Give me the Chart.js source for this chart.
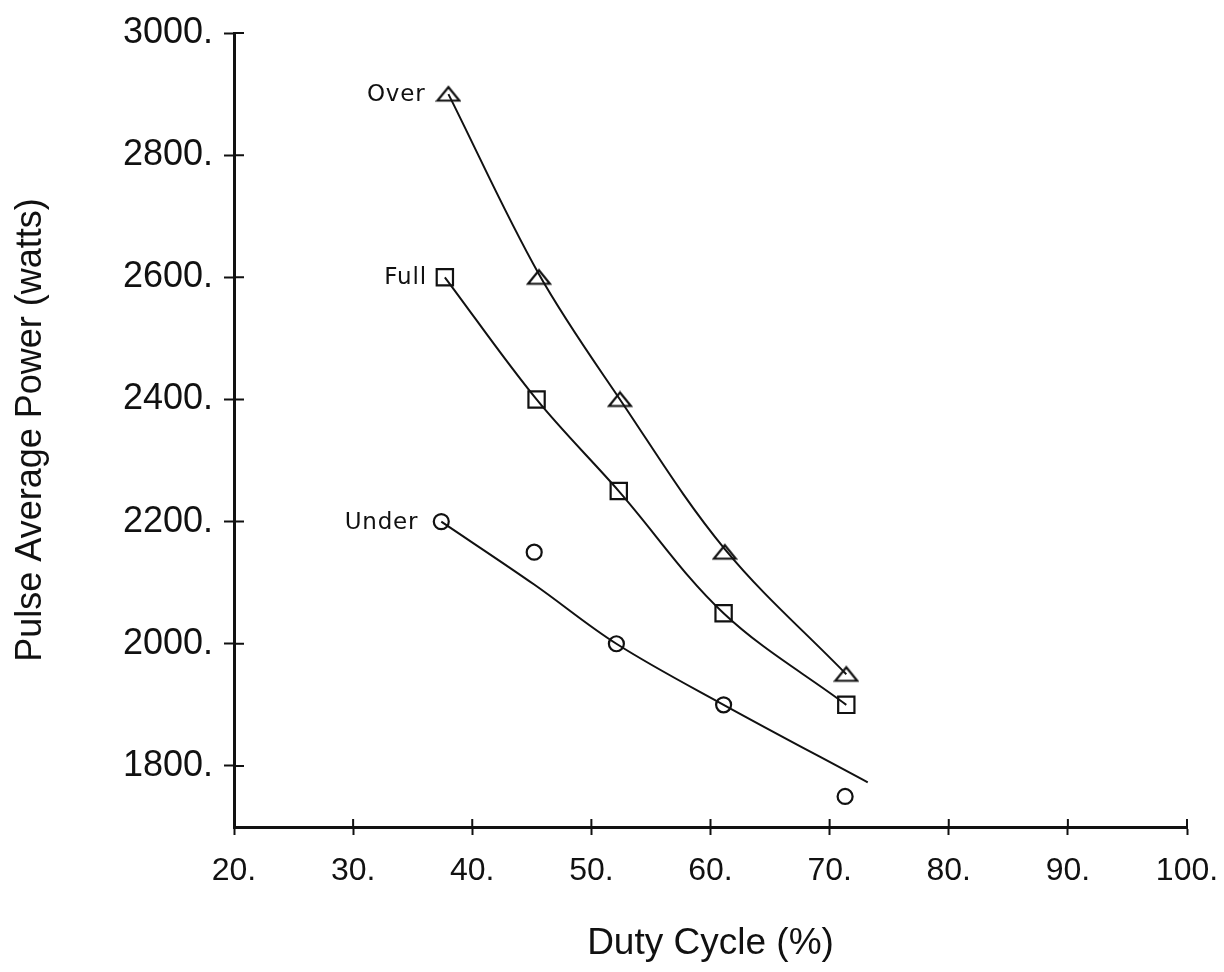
<!DOCTYPE html>
<html>
<head>
<meta charset="utf-8">
<script src="https://cdn.jsdelivr.net/npm/chart.js@4.4.1/dist/chart.umd.min.js"></script>
<style>
  html, body { margin: 0; padding: 0; background: #ffffff; }
  #wrap { width: 1224px; height: 972px; }
</style>
</head>
<body>
<div id="wrap"><canvas id="c" width="1224" height="972"></canvas></div>
<script>
// ---- Data ----
const seriesNames = ['Over', 'Full', 'Under'];

// measured points (Duty Cycle %, Pulse Average Power W)
const overX  = [38.0, 45.6, 52.4, 61.2, 71.4];
const overY  = [2900, 2600, 2400, 2150, 1950];
const fullX  = [37.7, 45.4, 52.3, 61.1, 71.4];
const fullY  = [2600, 2400, 2250, 2050, 1900];
const underX = [37.4, 45.2, 52.1, 61.1, 71.3];
const underY = [2200, 2150, 2000, 1900, 1750];

// fitted curves
const overFitX  = [38.0, 45.6, 52.4, 61.2, 71.4];
const overFitY  = [2900, 2605, 2400, 2155, 1950];
const fullFitX  = [37.7, 45.4, 52.3, 61.1, 71.4];
const fullFitY  = [2600, 2400, 2250, 2050, 1900];
const underFitX = [37.4, 45.2, 52.1, 61.1, 73.2];
const underFitY = [2200, 2097, 2000, 1900, 1773];

// axes
const xMin = 20, xMax = 100, xStep = 10;
const yMin = 1700, yMax = 3000;
const yTicks = [1800, 2000, 2200, 2400, 2600, 2800, 3000];

const xTitle = 'Duty Cycle (%)';
const yTitle = 'Pulse Average Power (watts)';

// ---- helpers ----
const pts = (xs, ys) => xs.map((x, i) => ({ x: x, y: ys[i] }));
const INK = '#111111';

function triangleMarker() {
  const c = document.createElement('canvas');
  c.width = 26; c.height = 18;
  const g = c.getContext('2d');
  g.strokeStyle = INK;
  g.lineWidth = 2.2;
  g.lineJoin = 'miter';
  g.beginPath();
  g.moveTo(13, 2);
  g.lineTo(24, 15.5);
  g.lineTo(2, 15.5);
  g.closePath();
  g.stroke();
  return c;
}
const triImg = triangleMarker();

const curveStyle = {
  showLine: true, pointRadius: 0, borderColor: INK, borderWidth: 2,
  cubicInterpolationMode: 'default', tension: 0.35, fill: false
};
const markerStyle = {
  showLine: false, borderColor: INK, backgroundColor: 'rgba(0,0,0,0)',
  pointBorderWidth: 2.2, pointBackgroundColor: 'rgba(0,0,0,0)', pointBorderColor: INK
};

const datasets = [
  Object.assign({ label: 'Over fit',  data: pts(overFitX, overFitY) }, curveStyle),
  Object.assign({ label: 'Full fit',  data: pts(fullFitX, fullFitY) }, curveStyle),
  Object.assign({ label: 'Under fit', data: pts(underFitX, underFitY) }, curveStyle),
  Object.assign({ label: seriesNames[0], data: pts(overX, overY), pointStyle: triImg, pointRadius: 11 }, markerStyle),
  Object.assign({ label: seriesNames[1], data: pts(fullX, fullY), pointStyle: 'rect', pointRadius: 11.5 }, markerStyle),
  Object.assign({ label: seriesNames[2], data: pts(underX, underY), pointStyle: 'circle', pointRadius: 7.5 }, markerStyle)
];

// inner half of the tick marks (ticks cross the axes)
const innerTicks = {
  id: 'innerTicks',
  afterDraw(chart) {
    const { ctx, chartArea, scales } = chart;
    ctx.save();
    ctx.strokeStyle = INK;
    ctx.lineWidth = 2;
    ctx.beginPath();
    scales.x.ticks.forEach(t => {
      const px = scales.x.getPixelForValue(t.value);
      ctx.moveTo(px, chartArea.bottom);
      ctx.lineTo(px, chartArea.bottom - 8);
    });
    scales.y.ticks.forEach(t => {
      const py = scales.y.getPixelForValue(t.value);
      ctx.moveTo(chartArea.left, py);
      ctx.lineTo(chartArea.left + 10, py);
    });
    ctx.stroke();
    ctx.restore();
  }
};

// series names written beside the first marker of each series
const seriesLabels = {
  id: 'seriesLabels',
  afterDatasetsDraw(chart) {
    const { ctx, scales } = chart;
    const firsts = [[overX[0], overY[0], 23], [fullX[0], fullY[0], 18], [underX[0], underY[0], 23]];
    ctx.save();
    ctx.fillStyle = INK;
    ctx.font = '23px "DejaVu Sans"';
    try { ctx.letterSpacing = '0.8px'; } catch (e) {}
    ctx.textAlign = 'right';
    ctx.textBaseline = 'middle';
    seriesNames.forEach((name, i) => {
      const px = scales.x.getPixelForValue(firsts[i][0]);
      const py = scales.y.getPixelForValue(firsts[i][1]);
      ctx.fillText(name, px - firsts[i][2], py + 1);
    });
    ctx.restore();
  }
};

new Chart(document.getElementById('c'), {
  type: 'scatter',
  data: { datasets: datasets },
  options: {
    responsive: false,
    animation: false,
    events: [],
    layout: { padding: { top: 33, right: 37, left: 0, bottom: 0 } },
    plugins: { legend: { display: false }, tooltip: { enabled: false } },
    scales: {
      x: {
        type: 'linear', min: xMin, max: xMax,
        afterFit(s) { s.height = 145; s.paddingLeft = 0; s.paddingRight = 0; },
        ticks: {
          stepSize: xStep, color: INK, padding: 17,
          font: { family: '"Liberation Sans", Arial, sans-serif', size: 32 },
          callback: v => v + '.'
        },
        grid: { drawOnChartArea: false, drawTicks: true, tickLength: 8, tickWidth: 2, color: INK },
        border: { display: true, color: INK, width: 3 },
        title: {
          display: true, text: xTitle, color: INK,
          font: { family: '"Liberation Sans", Arial, sans-serif', size: 37, lineHeight: 1.2 },
          padding: { top: 0, bottom: 6 }
        }
      },
      y: {
        type: 'linear', min: yMin, max: yMax,
        afterFit(s) { s.width = 234; s.paddingTop = 0; s.paddingBottom = 0; },
        afterBuildTicks(s) { s.ticks = yTicks.map(v => ({ value: v })); },
        ticks: {
          color: INK, padding: 11,
          font: { family: '"Liberation Sans", Arial, sans-serif', size: 36 },
          callback: v => v + '.'
        },
        grid: { drawOnChartArea: false, drawTicks: true, tickLength: 10, tickWidth: 2, color: INK },
        border: { display: true, color: INK, width: 3 },
        title: {
          display: true, text: yTitle, color: INK,
          font: { family: '"Liberation Sans", Arial, sans-serif', size: 36, lineHeight: 1.2 },
          padding: { top: 9, bottom: 0 }
        }
      }
    }
  },
  plugins: [innerTicks, seriesLabels]
});
</script>
</body>
</html>
